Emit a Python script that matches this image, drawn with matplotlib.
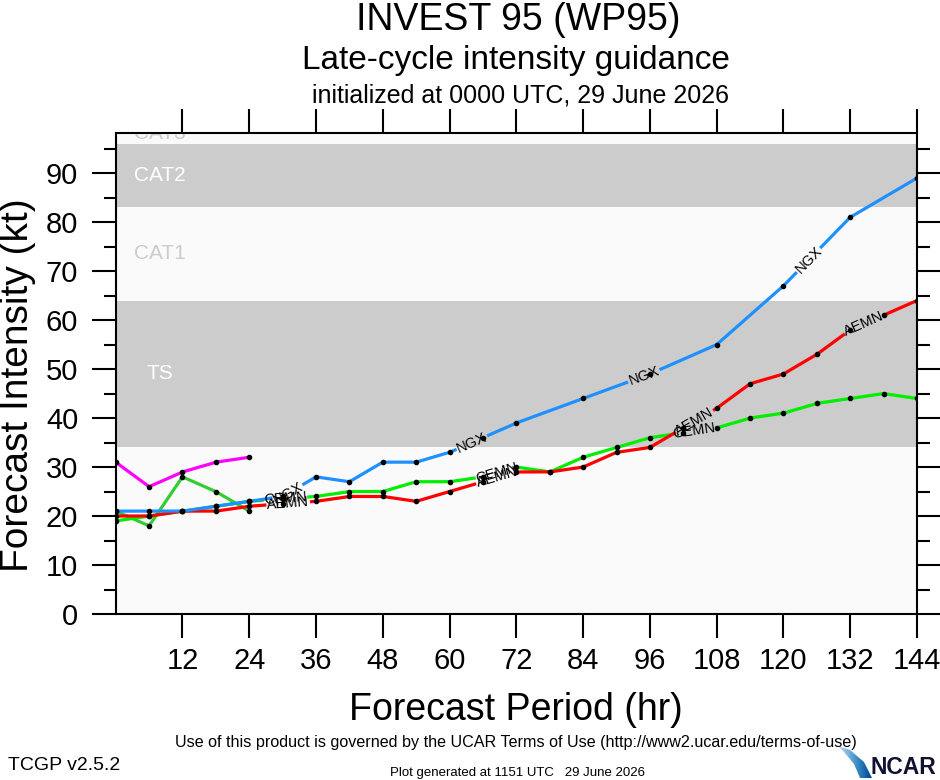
import numpy as np
import matplotlib.pyplot as plt
from matplotlib.patches import Polygon

plt.rcParams['font.family'] = ['Liberation Sans', 'DejaVu Sans']

# Model guidance values (kt)
hours6 = list(range(0, 145, 6))
aemn = [20, 20, 21, 21, 22, 22.5, 23, 24, 24, 23, 25, 27, 29,
        29, 30, 33, 34, 38, 42, 47, 49, 53, 58, 61, 64]
cemn = [19, 20, 21, 22, 23, 23.5, 24, 25, 25, 27, 27, 28, 30,
        29, 32, 34, 36, 37, 38, 40, 41, 43, 44, 45, 44]
ngx_hours = [0, 6, 12, 18, 24, 30, 36, 42, 48, 54, 60, 66, 72, 84, 96, 108, 120, 132, 144]
ngx = [21, 21, 21, 22, 23, 24, 28, 27, 31, 31, 33, 36, 39, 44, 49, 55, 67, 81, 89]
short_hours = [0, 6, 12, 18, 24]
green_short = [21, 18, 28, 25, 21]
magenta_short = [31, 26, 29, 31, 32]

# where the in-line model labels sit (hours)
ngx_lab = [31, 64, 95, 124.5]
aemn_lab = [31, 68.5, 104, 134.5]
cemn_lab = [30.5, 68.5, 104]

# intensity categories (kt)
band_edges = [0, 34, 64, 83, 96, 113]
band_colors = ['#fafafa', '#cccccc', '#fafafa', '#cccccc', '#fafafa']
band_names = ['', 'TS', 'CAT1', 'CAT2', 'CAT3']
band_text = ['', 'white', '#cccccc', 'white', '#cccccc']

fig = plt.figure(figsize=(9.4, 7.8), dpi=100)
ax = fig.add_axes([115.7 / 940, 1 - 614 / 780, (917 - 115.7) / 940, (614 - 133) / 780])
ax.set_xlim(0, 144)
ax.set_ylim(0, 98.2)

for i in range(len(band_colors)):
    ax.axhspan(band_edges[i], band_edges[i + 1], color=band_colors[i], lw=0, zorder=0)
    if band_names[i]:
        yy = min((band_edges[i] + band_edges[i + 1]) / 2, 98)
        ax.text(8, yy, band_names[i], color=band_text[i], fontsize=15,
                ha='center', va='center', zorder=1, clip_on=True)


def draw_model(h, v, color, labels, name):
    pts = ax.transData.transform(np.column_stack([h, v]))
    seg = np.hypot(*np.diff(pts, axis=0).T)
    cum = np.concatenate([[0], np.cumsum(seg)])
    # densify the polyline in display space
    xs, ys, ss = [], [], []
    for i in range(len(seg)):
        t = np.linspace(0, 1, 60, endpoint=False)
        xs.append(pts[i, 0] + t * (pts[i + 1, 0] - pts[i, 0]))
        ys.append(pts[i, 1] + t * (pts[i + 1, 1] - pts[i, 1]))
        ss.append(cum[i] + t * seg[i])
    xs.append([pts[-1, 0]]); ys.append([pts[-1, 1]]); ss.append([cum[-1]])
    xs, ys, ss = map(np.concatenate, (xs, ys, ss))
    half = len(name) * 5.0 + 3
    for lh in labels:
        i = min(np.searchsorted(h, lh, side='right') - 1, len(h) - 2)
        f = (lh - h[i]) / (h[i + 1] - h[i])
        s0 = cum[i] + f * seg[i]
        mask = np.abs(ss - s0) < half
        xs[mask] = np.nan
        ys[mask] = np.nan
        px = pts[i] + f * (pts[i + 1] - pts[i])
        ang = np.degrees(np.arctan2(pts[i + 1, 1] - pts[i, 1], pts[i + 1, 0] - pts[i, 0]))
        dx, dy = ax.transData.inverted().transform(px)
        ax.text(dx, dy, name, rotation=ang, rotation_mode='anchor', ha='center',
                va='center', fontsize=10.5, color='black', zorder=5)
    back = ax.transData.inverted().transform(np.column_stack([xs, ys]))
    ax.plot(back[:, 0], back[:, 1], color=color, lw=2.3, zorder=3)
    ax.plot(h, v, 'o', color='black', ms=3, zorder=4)


draw_model(short_hours, magenta_short, '#ff00ff', [], '')
draw_model(short_hours, green_short, '#33cc33', [], '')
draw_model(hours6, cemn, '#00ee00', cemn_lab, 'CEMN')
draw_model(hours6, aemn, '#ff0000', aemn_lab, 'AEMN')
draw_model(ngx_hours, ngx, '#1e90ff', ngx_lab, 'NGX')

ax.set_xticks(range(12, 145, 12))
ax.set_yticks(range(0, 91, 10))
ax.set_yticks(range(5, 96, 10), minor=True)
ax.tick_params(axis='both', which='major', direction='out', length=17, width=1.5,
               labelsize=21, top=True, right=True)
ax.tick_params(axis='x', which='major', pad=7)
ax.tick_params(axis='y', which='major', pad=10)
ax.tick_params(axis='y', which='minor', direction='out', length=9, width=1.5, right=True)
for sp in ax.spines.values():
    sp.set_linewidth(1.5)

ax.set_xlabel('Forecast Period (hr)', fontsize=27, labelpad=12)
fig.text(18 / 940, 1 - 385 / 780, 'Forecast Intensity (kt)', fontsize=28,
         rotation=90, ha='center', va='center')

fig.text(518 / 940, 1 - 20 / 780, 'INVEST 95 (WP95)', fontsize=27, ha='center', va='center')
fig.text(516 / 940, 1 - 60 / 780, 'Late-cycle intensity guidance', fontsize=24,
         ha='center', va='center')
fig.text(520 / 940, 1 - 96 / 780, 'initialized at 0000 UTC, 29 June 2026', fontsize=18,
         ha='center', va='center')

narrow = ['Liberation Sans Narrow', 'Liberation Sans']
fig.text(516 / 940, 1 - 742 / 780,
         'Use of this product is governed by the UCAR Terms of Use (http://www2.ucar.edu/terms-of-use)',
         fontsize=11.6, ha='center', va='center', family=narrow)
fig.text(8 / 940, 1 - 765 / 780, 'TCGP v2.5.2', fontsize=14, ha='left', va='center', family=narrow)
fig.text(518 / 940, 1 - 773 / 780, 'Plot generated at 1151 UTC   29 June 2026', fontsize=9.5,
         ha='center', va='center', family=narrow)

# NCAR logo
lax = fig.add_axes([830 / 940, 0, 110 / 940, 36 / 780])
lax.set_xlim(0, 110)
lax.set_ylim(0, 36)
lax.axis('off')
grad = np.linspace(0, 1, 64).reshape(1, -1)
im = lax.imshow(grad, cmap='Blues', vmin=-0.3, vmax=1.1, extent=(5, 42, 0, 34), aspect='auto')
wedge = Polygon([(8, 34), (20, 30), (34, 18), (42, 2), (30, 2), (24, 16), (14, 28)],
                transform=lax.transData)
im.set_clip_path(wedge)
lax.text(106, 13, 'NCAR', fontsize=16.5, fontweight='bold', color='#111133',
         ha='right', va='center', family=narrow)

fig.savefig('out.png', dpi=100)
